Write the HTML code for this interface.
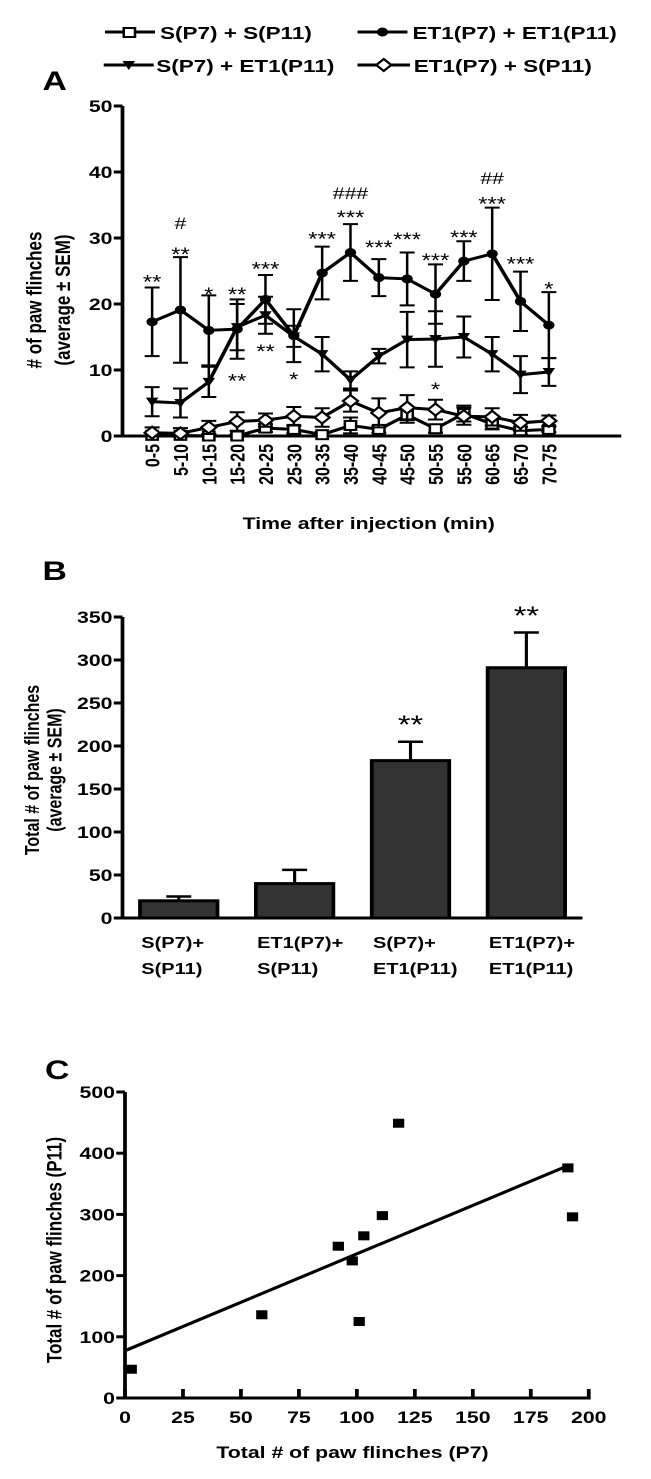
<!DOCTYPE html>
<html><head><meta charset="utf-8"><style>
body{margin:0;background:#fff}
svg{display:block;font-family:"Liberation Sans",Arial,sans-serif;font-weight:bold}
</style></head><body>
<svg id="fig" width="651" height="1479" viewBox="0 0 651 1479" xmlns="http://www.w3.org/2000/svg">
<g transform="scale(1.25,1)">
<g id="legend" font-size="18">
 <g><line x1="84" y1="32" x2="124" y2="32" stroke="#000" stroke-width="3"/><rect x="99" y="28" width="9" height="9" fill="#fff" stroke="#000" stroke-width="2"/><text x="128" y="39">S(P7) + S(P11)</text></g>
 <g><line x1="286" y1="32" x2="326" y2="32" stroke="#000" stroke-width="3"/><circle cx="306" cy="32" r="4.5"/><text x="330" y="39">ET1(P7) + ET1(P11)</text></g>
 <g><line x1="83" y1="65" x2="123" y2="65" stroke="#000" stroke-width="3"/><path d="M98,61 L108,61 L103,70 Z"/><text x="125" y="72">S(P7) + ET1(P11)</text></g>
 <g><line x1="286" y1="65" x2="328" y2="65" stroke="#000" stroke-width="3"/><path d="M307,59 L313,65 L307,71 L301,65 Z" fill="#fff" stroke="#000" stroke-width="2"/><text x="331" y="72">ET1(P7) + S(P11)</text></g>
</g>
<text x="34" y="90" font-size="27">A</text>
<g id="pa"></g>
<text x="34" y="580" font-size="27">B</text>
<g id="pb"></g>
<text x="36" y="1079" font-size="27">C</text>
<g id="pc"></g>
</g>
</svg>
<script>
// ---------- Panel A data ----------
const timeCats = ["0-5","5-10","10-15","15-20","20-25","25-30","30-35","35-40","40-45","45-50","50-55","55-60","60-65","65-70","70-75"];
const aTicks = [0,10,20,30,40,50];
const etEt = [17.3,19.1,16.0,16.2,20.7,15.2,24.7,27.8,24.0,23.8,21.5,26.5,27.6,20.4,16.8];
const etEtErr = [5.2,8.0,5.3,4.5,3.7,4.0,4.0,4.3,2.8,4.0,4.5,3.0,7.0,4.5,5.0];
const sEt = [5.2,5.0,8.2,16.5,18.3,15.1,12.4,8.5,12.1,14.6,14.7,15.0,12.4,9.3,9.7];
const sEtErr = [2.2,2.2,2.3,3.5,2.8,1.6,2.6,1.3,1.1,4.2,4.2,3.1,2.6,2.8,2.1];
const etS = [0.5,0.4,1.3,2.2,2.4,3.0,2.8,5.3,3.5,4.3,4.0,3.0,2.9,2.0,2.3];
const etSErr = [0.8,0.8,1.0,1.4,1.0,1.4,1.4,1.6,2.2,1.9,1.5,1.3,1.3,1.2,0.8];
const sS = [0.1,0.1,0.0,0.0,1.2,1.0,0.2,1.6,1.0,3.2,1.1,3.4,1.8,0.8,1.0];
const sSErr = [0.3,0.3,0.3,0.3,0.6,0.6,0.4,1.2,0.5,1.2,0.6,1.2,0.8,0.6,0.4];
const annText = ["**","#","**","*","**","**","***","**","*","***","###","***","***","***","***","*","***","##","***","***","*"];
const annIdx =  [0,1,1,2,3,3,4,4,5,6,7,7,8,9,10,10,11,12,12,13,14];
const annVal =  [23.9,32.3,28.0,22.0,22.0,8.9,25.8,13.3,9.1,30.4,36.8,33.6,29.1,30.3,27.1,7.6,30.6,39.1,35.7,26.6,22.8];
// ---------- Panel B data ----------
const bCats = [["S(P7)+","S(P11)"],["ET1(P7)+","S(P11)"],["S(P7)+","ET1(P11)"],["ET1(P7)+","ET1(P11)"]];
const bVals = [20,40,183,291];
const bErr = [5,16,22,41];
const bStars = ["","","**","**"];
const bTicks = [0,50,100,150,200,250,300,350];
// ---------- Panel C data ----------
const cX = [2.7,59,92,98,101,103,111,118,191,193];
const cY = [47,136,248,224,125,265,298,449,376,296];
const cXTicks = [0,25,50,75,100,125,150,175,200];
const cYTicks = [0,100,200,300,400,500];

const NS="http://www.w3.org/2000/svg";
function mk(parent,tag,attrs,txt){const e=document.createElementNS(NS,tag);for(const k in attrs)e.setAttribute(k,attrs[k]);if(txt!==undefined)e.textContent=txt;parent.appendChild(e);return e;}

// ===== Panel A =====
(function(){
const g=document.getElementById('pa');
const X0=98, Y0=436, Ytop=106, Xend=497;
const xA=i=>121.7+i*22.67;
const yA=v=>Y0-(v/50)*(Y0-Ytop);
let ax=mk(g,'line',{x1:X0,y1:Ytop,x2:X0,y2:Y0+1.5,stroke:'#000','stroke-width':3});

ax=mk(g,'line',{x1:X0-1.5,y1:Y0,x2:Xend,y2:Y0,stroke:'#000','stroke-width':3});

aTicks.forEach(t=>{
  const l=mk(g,'line',{x1:X0-7,y1:yA(t),x2:X0,y2:yA(t),stroke:'#000','stroke-width':3});
  
  const tx=mk(g,'text',{x:X0-8,y:yA(t)+6,'text-anchor':'end','font-size':17},String(t));
  
});
timeCats.forEach((c,i)=>{
  const tx=mk(g,'text',{transform:`translate(${xA(i)+6},${Y0+8}) rotate(-90)`,'text-anchor':'end','font-size':16},c);
  
});
let t=mk(g,'text',{x:295,y:529,'text-anchor':'middle','font-size':17},'Time after injection (min)');

t=mk(g,'text',{transform:'translate(33,300) rotate(-90)','text-anchor':'middle','font-size':17},'# of paw flinches');

t=mk(g,'text',{transform:'translate(56,300) rotate(-90)','text-anchor':'middle','font-size':17},'(average ± SEM)');


function series(vals,errs,name,marker){
  const sg=mk(g,'g',{});
  
  vals.forEach((v,i)=>{
    const x=xA(i),y1=yA(v+errs[i]),y2=yA(Math.max(0,v-errs[i]));
    const e=mk(sg,'path',{d:`M${x},${y1}V${y2}M${x-6},${y1}H${x+6}M${x-6},${y2}H${x+6}`,stroke:'#000','stroke-width':2,fill:'none'});
    
  });
  const ln=mk(sg,'polyline',{points:vals.map((v,i)=>xA(i)+','+yA(v)).join(' '),fill:'none',stroke:'#000','stroke-width':3});
  
  vals.forEach((v,i)=>{
    const x=xA(i),y=yA(v);let m;
    if(marker==='circle')m=mk(sg,'circle',{cx:x,cy:y,r:4.5,fill:'#000'});
    else if(marker==='square')m=mk(sg,'rect',{x:x-4.5,y:y-4.5,width:9,height:9,fill:'#fff',stroke:'#000','stroke-width':2});
    else if(marker==='tri')m=mk(sg,'path',{d:`M${x-5},${y-4}L${x+5},${y-4}L${x},${y+5}Z`,fill:'#000'});
    else m=mk(sg,'path',{d:`M${x},${y-6}L${x+6},${y}L${x},${y+6}L${x-6},${y}Z`,fill:'#fff',stroke:'#000','stroke-width':2});
    
  });
}
series(sS,sSErr,'series-s-s','square');
series(etS,etSErr,'series-et1-s','diamond');
series(sEt,sEtErr,'series-s-et1','tri');
series(etEt,etEtErr,'series-et1-et1','circle');
annText.forEach((s,k)=>{
  const tx=mk(g,'text',{x:xA(annIdx[k]),y:yA(annVal[k])+(s.indexOf('#')>=0?6:10),'text-anchor':'middle','font-size':s.indexOf('#')>=0?17:19,'font-weight':'normal'},s);
  
});
})();

// ===== Panel B =====
(function(){
const g=document.getElementById('pb');
const X0=98,Y0=918,Ytop=617,Xend=466;
const yB=v=>Y0-(v/350)*(Y0-Ytop);
const xB=i=>143+i*92.7;
let a=mk(g,'line',{x1:X0,y1:Ytop,x2:X0,y2:Y0+1.5,stroke:'#000','stroke-width':3});

bTicks.forEach(t=>{
  const l=mk(g,'line',{x1:X0-7,y1:yB(t),x2:X0,y2:yB(t),stroke:'#000','stroke-width':3});
  
  const tx=mk(g,'text',{x:X0-8,y:yB(t)+6,'text-anchor':'end','font-size':17},String(t));
  
});
bVals.forEach((v,i)=>{
  const x=xB(i),top=yB(v),et=yB(v+bErr[i]);
  const e=mk(g,'path',{d:`M${x},${top}V${et}M${x-10},${et}H${x+10}`,stroke:'#000','stroke-width':2.5,fill:'none'});
  
  const r=mk(g,'rect',{x:x-31,y:top,width:62,height:Y0-top,fill:'#333',stroke:'#000','stroke-width':3});
  
  if(bStars[i]){const s=mk(g,'text',{x:x,y:et-8,'text-anchor':'middle','font-size':26,'font-weight':'normal'},bStars[i]);
   }
  bCats[i].forEach((ln,j)=>{
    const tx=mk(g,'text',{x:x-30,y:948+j*26,'font-size':16},ln);
    
  });
});
a=mk(g,'line',{x1:X0-1.5,y1:Y0,x2:Xend,y2:Y0,stroke:'#000','stroke-width':3});

let t=mk(g,'text',{transform:'translate(31,770) rotate(-90)','text-anchor':'middle','font-size':16},'Total # of paw flinches');

t=mk(g,'text',{transform:'translate(49,770) rotate(-90)','text-anchor':'middle','font-size':16},'(average ± SEM)');

})();

// ===== Panel C =====
(function(){
const g=document.getElementById('pc');
const X0=100,Y0=1398,Ytop=1092,Xmax=471;
const xC=v=>X0+(v/200)*(Xmax-X0);
const yC=v=>Y0-(v/500)*(Y0-Ytop);
let a=mk(g,'line',{x1:X0,y1:Ytop,x2:X0,y2:Y0+1.5,stroke:'#000','stroke-width':3});

a=mk(g,'line',{x1:X0-1.5,y1:Y0,x2:Xmax+1.5,y2:Y0,stroke:'#000','stroke-width':3});

cYTicks.forEach(t=>{
  const l=mk(g,'line',{x1:X0-7,y1:yC(t),x2:X0,y2:yC(t),stroke:'#000','stroke-width':3});
  
  const tx=mk(g,'text',{x:X0-8,y:yC(t)+6,'text-anchor':'end','font-size':17},String(t));
  
});
cXTicks.forEach(t=>{
  const l=mk(g,'line',{x1:xC(t),y1:Y0-9,x2:xC(t),y2:Y0,stroke:'#000','stroke-width':3});
  
  const tx=mk(g,'text',{x:xC(t),y:1423,'text-anchor':'middle','font-size':17},String(t));
  
});
const n=cX.length,mx=cX.reduce((s,v)=>s+v,0)/n,my=cY.reduce((s,v)=>s+v,0)/n;
let sxy=0,sxx=0;cX.forEach((v,i)=>{sxy+=(v-mx)*(cY[i]-my);sxx+=(v-mx)*(v-mx);});
const slope=sxy/sxx,icpt=my-slope*mx,xe=Math.max(...cX)-2;
const rl=mk(g,'line',{x1:xC(0),y1:yC(icpt),x2:xC(xe),y2:yC(icpt+slope*xe),stroke:'#000','stroke-width':3});

cX.forEach((v,i)=>{
  const p=mk(g,'rect',{x:xC(v)-4.5,y:yC(cY[i])-4.5,width:9,height:9,fill:'#000'});
  
});
let t=mk(g,'text',{x:282,y:1458,'text-anchor':'middle','font-size':17},'Total # of paw flinches (P7)');

t=mk(g,'text',{transform:'translate(49,1250) rotate(-90)','text-anchor':'middle','font-size':17},'Total # of paw flinches (P11)');

})();
</script>
</body></html>
